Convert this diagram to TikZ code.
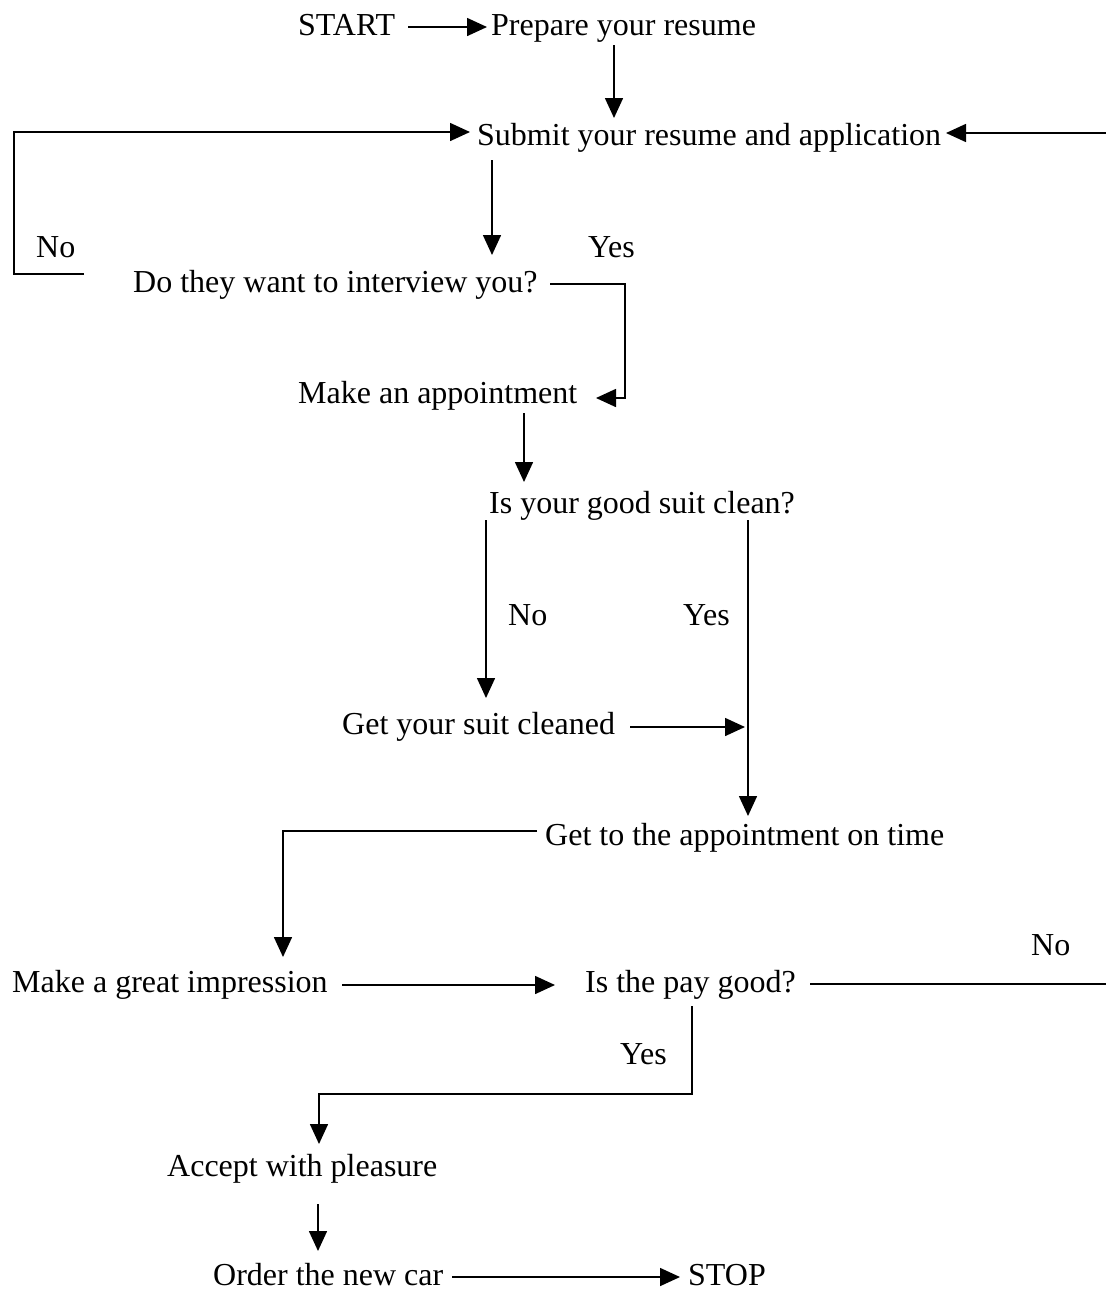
\documentclass[tikz,border=0pt]{standalone}
\usepackage{fontspec}
\setmainfont{Liberation Serif}
\usetikzlibrary{arrows.meta}
\begin{document}
\begin{tikzpicture}[x=1pt,y=-1pt,
  lbl/.style={anchor=base west,inner sep=0pt,font=\fontsize{32}{38}\selectfont},
  conn/.style={line width=1.6pt},
  arr/.style={conn,-{Triangle[length=20pt,width=18pt]}}]
\useasboundingbox (0,0) rectangle (1106,1291);
% nodes
\node[lbl] (start) at (298,35) {START};
\node[lbl] (prep) at (491,35) {Prepare your resume};
\node[lbl] (submit) at (477,145) {Submit your resume and application};
\node[lbl] (no1) at (36,257) {No};
\node[lbl] (yes1) at (588,257) {Yes};
\node[lbl] (interview) at (133,292) {Do they want to interview you?};
\node[lbl] (appt) at (298,403) {Make an appointment};
\node[lbl] (suit) at (489,513) {Is your good suit clean?};
\node[lbl] (no2) at (508,625) {No};
\node[lbl] (yes2) at (683,625) {Yes};
\node[lbl] (clean) at (342,734) {Get your suit cleaned};
\node[lbl] (ontime) at (545,845) {Get to the appointment on time};
\node[lbl] (impress) at (12,992) {Make a great impression};
\node[lbl] (pay) at (585,992) {Is the pay good?};
\node[lbl] (no3) at (1031,955) {No};
\node[lbl] (yes3) at (620,1064) {Yes};
\node[lbl] (accept) at (167,1176) {Accept with pleasure};
\node[lbl] (order) at (213,1285) {Order the new car};
\node[lbl] (stop) at (688,1285) {STOP};
% connector points
\coordinate (a1) at (408,27);   \coordinate (a2) at (487,27);
\coordinate (b1) at (614,45);   \coordinate (b2) at (614,118);
\coordinate (c1) at (84,274);   \coordinate (c2) at (14,274);
\coordinate (c3) at (14,132);   \coordinate (c4) at (470,132);
\coordinate (d1) at (1106,133); \coordinate (d2) at (946,133);
\coordinate (e1) at (492,160);  \coordinate (e2) at (492,255);
\coordinate (f1) at (550,284);  \coordinate (f2) at (625,284);
\coordinate (f3) at (625,398);  \coordinate (f4) at (596,398);
\coordinate (g1) at (524,413);  \coordinate (g2) at (524,482);
\coordinate (h1) at (486,520);  \coordinate (h2) at (486,698);
\coordinate (i1) at (748,520);  \coordinate (i2) at (748,816);
\coordinate (j1) at (630,727);  \coordinate (j2) at (745,727);
\coordinate (k1) at (537,831);  \coordinate (k2) at (283,831);
\coordinate (k3) at (283,957);
\coordinate (l1) at (342,985);  \coordinate (l2) at (555,985);
\coordinate (m1) at (810,984);  \coordinate (m2) at (1106,984);
\coordinate (n1) at (692,1006); \coordinate (n2) at (692,1094);
\coordinate (n3) at (319,1094); \coordinate (n4) at (319,1144);
\coordinate (o1) at (318,1204); \coordinate (o2) at (318,1251);
\coordinate (p1) at (452,1277); \coordinate (p2) at (680,1277);
% connectors
\draw[arr] (a1) -- (a2);
\draw[arr] (b1) -- (b2);
\draw[arr] (c1) -- (c2) -- (c3) -- (c4);
\draw[arr] (d1) -- (d2);
\draw[arr] (e1) -- (e2);
\draw[arr] (f1) -- (f2) -- (f3) -- (f4);
\draw[arr] (g1) -- (g2);
\draw[arr] (h1) -- (h2);
\draw[arr] (i1) -- (i2);
\draw[arr] (j1) -- (j2);
\draw[arr] (k1) -- (k2) -- (k3);
\draw[arr] (l1) -- (l2);
\draw[conn] (m1) -- (m2);
\draw[arr] (n1) -- (n2) -- (n3) -- (n4);
\draw[arr] (o1) -- (o2);
\draw[arr] (p1) -- (p2);
\end{tikzpicture}
\end{document}
